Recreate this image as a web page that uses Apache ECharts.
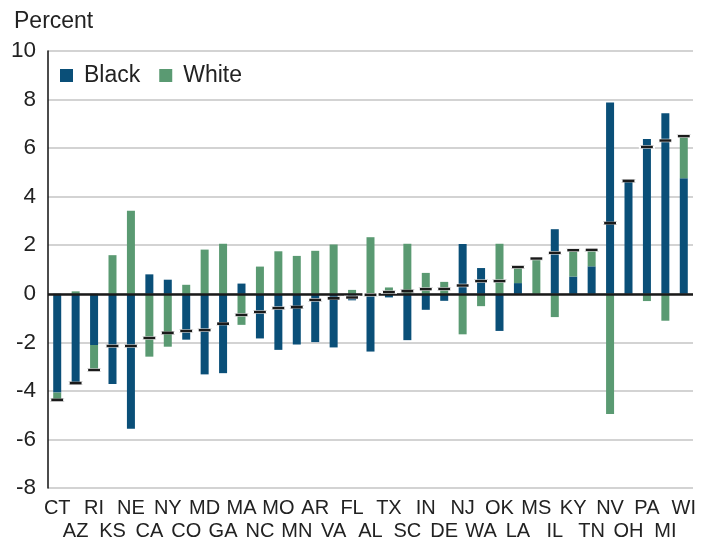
<!DOCTYPE html>
<html>
<head>
<meta charset="utf-8">
<script src="https://cdn.jsdelivr.net/npm/echarts@6/dist/echarts.min.js"></script>
<style>
html,body{margin:0;padding:0;background:#fff;}
#chart{width:716px;height:543px;}
</style>
</head>
<body>
<div id="chart"></div>
<script>
const categories = ['CT','AZ','RI','KS','NE','CA','NY','CO','MD','GA','MA','NC','MO','MN','AR','VA','FL','AL','TX','SC','IN','DE','NJ','WA','OK','LA','MS','IL','KY','TN','NV','OH','PA','MI','WI'];
const blackValues = [-4.07,-3.66,-2.11,-3.72,-5.56,0.80,0.58,-1.89,-3.32,-3.27,0.42,-1.84,-2.31,-2.09,-1.99,-2.21,-0.27,-2.38,-0.15,-1.91,-0.66,-0.29,2.05,1.06,-1.53,0.44,0,2.66,0.71,1.13,7.88,4.65,6.38,7.44,4.76];
const whiteValues = [-0.30,0.10,-1.03,1.59,3.42,-2.59,-2.18,0.37,1.82,2.06,-1.28,1.12,1.75,1.56,1.77,2.03,0.16,2.33,0.26,2.06,0.86,0.49,-1.67,-0.51,2.06,0.66,1.45,-0.96,1.08,0.68,-4.95,0,-0.30,-1.11,1.73];
const totalValues = [-4.37,-3.68,-3.14,-2.15,-2.15,-1.82,-1.61,-1.53,-1.50,-1.23,-0.87,-0.75,-0.59,-0.55,-0.25,-0.19,-0.15,-0.04,0.07,0.11,0.19,0.20,0.34,0.52,0.52,1.10,1.45,1.69,1.79,1.81,2.91,4.65,6.05,6.31,6.49];
const yTicks = {min: -8, max: 10, interval: 2};

const FONT = 'Liberation Sans, Arial, sans-serif';
const chart = echarts.init(document.getElementById('chart'));
chart.setOption({
  animation: false,
  backgroundColor: '#fff',
  title: {
    text: 'Percent', left: 9, top: 5,
    textStyle: {fontFamily: FONT, fontSize: 23, fontWeight: 'normal', color: '#222'}
  },
  legend: {
    left: 60, top: 64, itemWidth: 13, itemHeight: 13, itemGap: 19, padding: 0,
    icon: 'rect',
    data: ['Black', 'White'],
    textStyle: {fontFamily: FONT, fontSize: 23, color: '#222', padding: [0, 0, 0, 6]}
  },
  grid: {left: 48, right: 23, top: 51, bottom: 54},
  xAxis: {
    type: 'category',
    data: categories,
    axisLine: {show: false, onZero: false},
    axisTick: {show: false},
    axisLabel: {
      interval: 0, margin: 9, fontFamily: FONT, fontSize: 20, color: '#222', lineHeight: 23,
      formatter: (v, i) => (i % 2 ? '\n' + v : v)
    }
  },
  yAxis: {
    type: 'value',
    min: yTicks.min, max: yTicks.max, interval: yTicks.interval,
    axisLine: {show: true, lineStyle: {color: '#111', width: 1.5}},
    axisTick: {show: false},
    axisLabel: {fontFamily: FONT, fontSize: 22.5, color: '#222', margin: 12},
    splitLine: {lineStyle: {color: '#c4c4c4', width: 1.5}}
  },
  series: [
    {
      name: 'Black', type: 'bar', stack: 'total', barWidth: 8,
      itemStyle: {color: '#0a4f78'},
      data: blackValues,
      markLine: {
        silent: true, symbol: 'none', label: {show: false},
        lineStyle: {color: '#1a1a1a', width: 2.5, type: 'solid'},
        data: [{yAxis: 0}]
      }
    },
    {
      name: 'White', type: 'bar', stack: 'total', barWidth: 8,
      itemStyle: {color: '#5a9a72'},
      data: whiteValues
    },
    {
      name: 'Total', type: 'scatter', symbol: 'rect', symbolSize: [14, 3], z: 5,
      itemStyle: {color: '#1a1a1a', borderColor: '#fff', borderWidth: 1, opacity: 1},
      data: totalValues
    }
  ]
});
</script>
</body>
</html>
